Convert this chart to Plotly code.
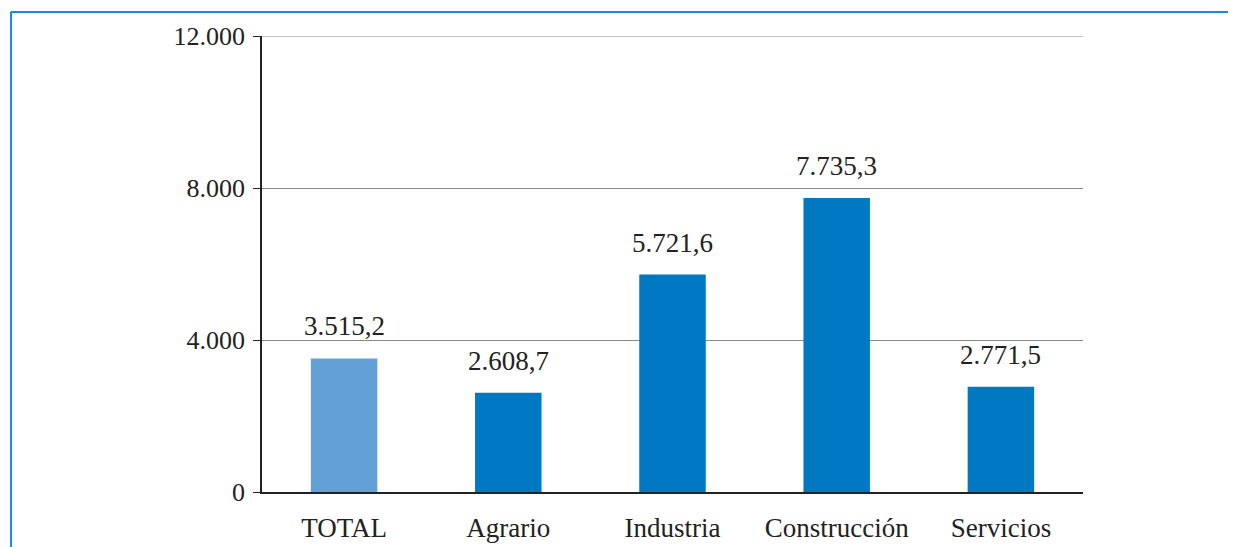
import plotly.graph_objects as go

categories = ["TOTAL", "Agrario", "Industria", "Construcción", "Servicios"]
values = [3515.2, 2608.7, 5721.6, 7735.3, 2771.5]
labels = ["3.515,2", "2.608,7", "5.721,6", "7.735,3", "2.771,5"]
bar_colors = ["#62a0d6", "#0078c2", "#0078c2", "#0078c2", "#0078c2"]
y_ticks = [0, 4000, 8000, 12000]

FONT = "Liberation Serif"
OFF = 8  # page body margin
W, H = 1236 - OFF, 547 - OFF
ml, mt = 262 - OFF, 36 - OFF
pw, ph = 821, 456
mr, mb = W - ml - pw, H - mt - ph

fig = go.Figure(go.Bar(x=categories, y=values, marker_color=bar_colors,
                       marker_line_width=0, hoverinfo="skip"))

for c, v, t in zip(categories, values, labels):
    fig.add_annotation(x=c, y=v, text=t, showarrow=False, yanchor="middle",
                       yshift=32, font=dict(family=FONT, size=27, color="#222"))


def px_x(px):
    return (px - OFF - ml) / pw


def px_y(py):
    return (H - mb - (py - OFF)) / ph


frame = dict(color="#1c8ad6", width=2)
fig.add_shape(type="line", xref="paper", yref="paper", x0=px_x(11), x1=px_x(11),
              y0=px_y(12), y1=px_y(600), line=frame)
fig.add_shape(type="line", xref="paper", yref="paper", x0=px_x(11), x1=px_x(1300),
              y0=px_y(12), y1=px_y(12), line=frame)
# top gridline at the axis maximum
fig.add_shape(type="line", xref="paper", yref="y", x0=0, x1=1,
              y0=y_ticks[-1], y1=y_ticks[-1], line=dict(color="#8a8a8a", width=1))

fig.update_layout(
    width=W, height=H, margin=dict(l=ml, r=mr, t=mt, b=mb, autoexpand=False),
    plot_bgcolor="white", paper_bgcolor="white", separators=",.",
    showlegend=False, bargap=0.595,
    font=dict(family=FONT, size=26, color="#222"),
)
fig.update_xaxes(showline=True, linecolor="#222", linewidth=2, ticks="",
                 automargin=False,
                 ticklabelstandoff=11, tickfont=dict(family=FONT, size=27, color="#222"))
fig.update_yaxes(range=[0, 12000], tickvals=y_ticks, tickformat=",d",
                 showgrid=True, gridcolor="#8a8a8a", gridwidth=1, automargin=False,
                 showline=True, linecolor="#222", linewidth=1.5,
                 ticks="outside", ticklen=7, tickcolor="#222", tickwidth=1,
                 ticklabelstandoff=3, zeroline=False,
                 tickfont=dict(family=FONT, size=26, color="#222"))

fig.write_html("out.html")
